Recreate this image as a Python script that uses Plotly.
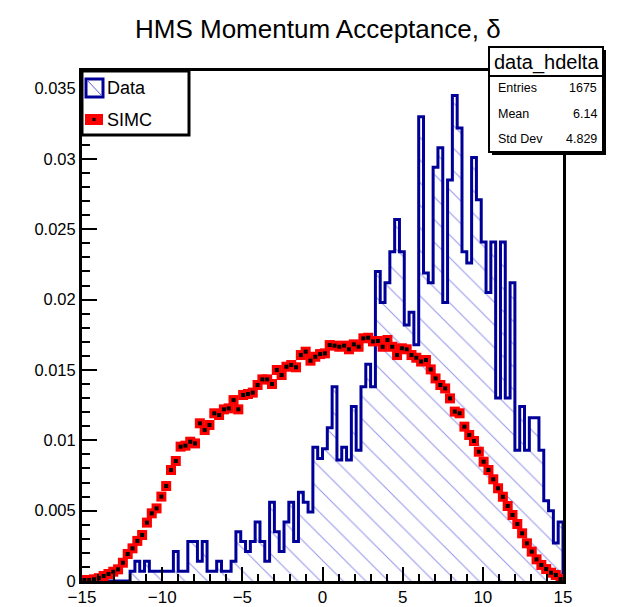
import numpy as np
import plotly.graph_objects as go

# ---------------- data ----------------
x_min, x_max, n_bins = -15.0, 15.0, 100

data_hdelta = [
    0, 0, 0, 0, 0, 0, 0, 0, 0, 0,
    0.0007, 0.0014, 0.0007, 0.0014, 0.0007, 0.0007, 0.0007, 0.0007, 0.0007, 0.0021,
    0.0007, 0.0007, 0.0028, 0.0028, 0.0014, 0.0028, 0.0007, 0.0007, 0.0014, 0.0007,
    0.0007, 0.0014, 0.0035, 0.0028, 0.0021, 0.0028, 0.0042, 0.0028, 0.0014, 0.0056,
    0.0035, 0.0021, 0.0042, 0.0056, 0.0028, 0.0063, 0.0056, 0.0049, 0.0095, 0.0087,
    0.0094, 0.0109, 0.0138, 0.0086, 0.0095, 0.0086, 0.0124, 0.0093, 0.0138, 0.0154,
    0.0138, 0.0220, 0.0198, 0.0212, 0.0234, 0.0257, 0.0234, 0.0182, 0.0191, 0.0168,
    0.0330, 0.0219, 0.0212, 0.0294, 0.0308, 0.0198, 0.0285, 0.0345, 0.0322, 0.0234,
    0.0226, 0.0301, 0.0271, 0.0241, 0.0205, 0.0241, 0.0130, 0.0241, 0.0130, 0.0212,
    0.0093, 0.0124, 0.0093, 0.0116, 0.0116, 0.0093, 0.0057, 0.0050, 0.0027, 0.0042,
]

simc_hdelta = [
    0.00007, 0.00007, 0.00012, 0.00020, 0.00036, 0.00050, 0.00066, 0.00083, 0.00130, 0.00192,
    0.00232, 0.00285, 0.00327, 0.00415, 0.00481, 0.00516, 0.00600, 0.00675, 0.00789, 0.00853,
    0.00955, 0.00962, 0.00990, 0.00978, 0.01121, 0.01073, 0.01109, 0.01192, 0.01180, 0.01220,
    0.01227, 0.01286, 0.01220, 0.01322, 0.01329, 0.01339, 0.01393, 0.01433, 0.01433, 0.01400,
    0.01500, 0.01464, 0.01523, 0.01535, 0.01519, 0.01606, 0.01630, 0.01566, 0.01594, 0.01613,
    0.01618, 0.01677, 0.01673, 0.01665, 0.01673, 0.01647, 0.01682, 0.01665, 0.01725, 0.01729,
    0.01703, 0.01706, 0.01665, 0.01713, 0.01665, 0.01606, 0.01654, 0.01647, 0.01606, 0.01587,
    0.01560, 0.01571, 0.01504, 0.01440, 0.01393, 0.01369, 0.01298, 0.01204, 0.01192, 0.01097,
    0.01038, 0.00995, 0.00919, 0.00848, 0.00789, 0.00723, 0.00659, 0.00599, 0.00533, 0.00469,
    0.00405, 0.00339, 0.00268, 0.00209, 0.00154, 0.00114, 0.00085, 0.00059, 0.00043, 0.00014,
]

title_text = "HMS Momentum Acceptance, \u03b4"
stats_name = "data_hdelta"
stats_rows = [("Entries", "1675"), ("Mean", "6.14"), ("Std Dev", "4.829")]
legend_labels = ["Data", "SIMC"]

# ---------------- geometry helpers ----------------
# The page body has an 8 px margin, so the figure is drawn 8 px in from the
# window's top-left corner; the figure is sized to fill the rest of the window.
OFF = 8
W, H = 635 - OFF, 607 - OFF
PLOT_L, PLOT_R, PLOT_T, PLOT_B = 82, 563, 71, 581   # window pixels of the frame
ML = PLOT_L - OFF
MR = W - (PLOT_R - OFF)
MT = PLOT_T - OFF
MB = H - (PLOT_B - OFF)
PW, PH = W - ML - MR, H - MT - MB
y_top = 0.03625

def fx(px):
    """window pixel x -> paper coordinate"""
    return (px - PLOT_L) / PW

def fy(py):
    """window pixel y -> paper coordinate"""
    return (PLOT_B - py) / PH

edges = np.linspace(x_min, x_max, n_bins + 1)
centers = 0.5 * (edges[:-1] + edges[1:])

# histogram outline (step) closed to zero at both ends
hx = [x_min] + list(edges) + [x_max]
hy = [0] + list(data_hdelta) + [data_hdelta[-1], 0]
hx = hx[: len(hy)]

FONT = "Liberation Sans, Arial, Helvetica, sans-serif"
BLUE = "#000099"

fig = go.Figure()

fig.add_trace(go.Scatter(
    x=hx, y=hy, mode="lines", line=dict(color=BLUE, width=3, shape="hv"),
    fill="tozeroy", fillcolor="rgba(0,0,0,0)",
    fillpattern=dict(shape="\\", size=16, solidity=0.07, fgcolor="#4646dc",
                     fgopacity=0.55, bgcolor="rgba(0,0,0,0)"),
    showlegend=False, hoverinfo="skip",
))

fig.add_trace(go.Scatter(
    x=centers, y=simc_hdelta, mode="markers",
    marker=dict(symbol="square", size=10, color="#ff0000", line=dict(width=0)),
    showlegend=False, hoverinfo="skip",
))
fig.add_trace(go.Scatter(
    x=centers, y=simc_hdelta, mode="markers",
    marker=dict(symbol="square", size=4, color="#000000", line=dict(width=0)),
    showlegend=False, hoverinfo="skip",
))

shapes = []
# stats box with shadow
shapes.append(dict(type="rect", xref="paper", yref="paper",
                   x0=fx(492), x1=fx(606), y0=fy(155), y1=fy(50),
                   fillcolor="black", line=dict(width=0)))
shapes.append(dict(type="rect", xref="paper", yref="paper",
                   x0=fx(489), x1=fx(603), y0=fy(152), y1=fy(47),
                   fillcolor="white", line=dict(color="black", width=2)))
shapes.append(dict(type="line", xref="paper", yref="paper",
                   x0=fx(489), x1=fx(603), y0=fy(76), y1=fy(76),
                   line=dict(color="black", width=2)))
# legend box
shapes.append(dict(type="rect", xref="paper", yref="paper",
                   x0=fx(82), x1=fx(189), y0=fy(135), y1=fy(71),
                   fillcolor="white", line=dict(color="black", width=3)))
shapes.append(dict(type="rect", xref="paper", yref="paper",
                   x0=fx(86), x1=fx(103), y0=fy(97), y1=fy(79),
                   fillcolor="white", line=dict(color=BLUE, width=3)))
shapes.append(dict(type="line", xref="paper", yref="paper",
                   x0=fx(87), x1=fx(102), y0=fy(80), y1=fy(96),
                   line=dict(color="#5a5ae0", width=1)))
shapes.append(dict(type="rect", xref="paper", yref="paper",
                   x0=fx(85), x1=fx(103), y0=fy(125), y1=fy(114),
                   fillcolor="#ff0000", line=dict(width=0)))
shapes.append(dict(type="rect", xref="paper", yref="paper",
                   x0=fx(92.5), x1=fx(95.5), y0=fy(121), y1=fy(118),
                   fillcolor="black", line=dict(width=0)))

annotations = []
annotations.append(dict(text=title_text, xref="paper", yref="paper",
                        x=fx(317.5), y=fy(28.5), xanchor="center", yanchor="middle",
                        showarrow=False, font=dict(family=FONT, size=26, color="black")))
annotations.append(dict(text=stats_name, xref="paper", yref="paper",
                        x=fx(546), y=fy(62), xanchor="center", yanchor="middle",
                        showarrow=False, font=dict(family=FONT, size=20, color="black")))
for k, (lab, val) in enumerate(stats_rows):
    yy = fy(88 + 25.5 * k)
    annotations.append(dict(text=lab, xref="paper", yref="paper", x=fx(496), y=yy,
                            xanchor="left", yanchor="middle", showarrow=False,
                            font=dict(family=FONT, size=12.5, color="black")))
    annotations.append(dict(text=val, xref="paper", yref="paper", x=fx(599), y=yy,
                            xanchor="right", yanchor="middle", showarrow=False,
                            font=dict(family=FONT, size=12.5, color="black")))
for k, lab in enumerate(legend_labels):
    annotations.append(dict(text=lab, xref="paper", yref="paper", x=fx(105),
                            y=fy(88 + 32 * k), xanchor="left", yanchor="middle",
                            showarrow=False, font=dict(family=FONT, size=18, color="black")))

fig.update_layout(
    width=W, height=H,
    margin=dict(l=ML, r=MR, t=MT, b=MB, pad=0, autoexpand=False),
    paper_bgcolor="white", plot_bgcolor="white",
    font=dict(family=FONT, size=16, color="black"),
    shapes=shapes, annotations=annotations, showlegend=False,
)
fig.update_xaxes(
    range=[x_min, x_max], dtick=5, tick0=-15, ticks="inside", ticklen=14,
    tickwidth=2, tickcolor="black", showline=True, linewidth=3, linecolor="black",
    mirror=True, showgrid=False, zeroline=False, automargin=False,
    ticklabelstandoff=-1,
    tickfont=dict(family=FONT, size=17, color="black"),
    minor=dict(ticks="inside", ticklen=7, tickwidth=2, tickcolor="black", dtick=1, showgrid=False),
)
fig.update_yaxes(
    range=[0, y_top], dtick=0.005, tick0=0, ticks="inside", ticklen=15,
    tickwidth=2, tickcolor="black", showline=True, linewidth=3, linecolor="black",
    mirror=True, showgrid=False, zeroline=False, automargin=False,
    tickfont=dict(family=FONT, size=16.5, color="black"),
    minor=dict(ticks="inside", ticklen=8, tickwidth=2, tickcolor="black", dtick=0.001, showgrid=False),
)

fig.write_html("out.html")
